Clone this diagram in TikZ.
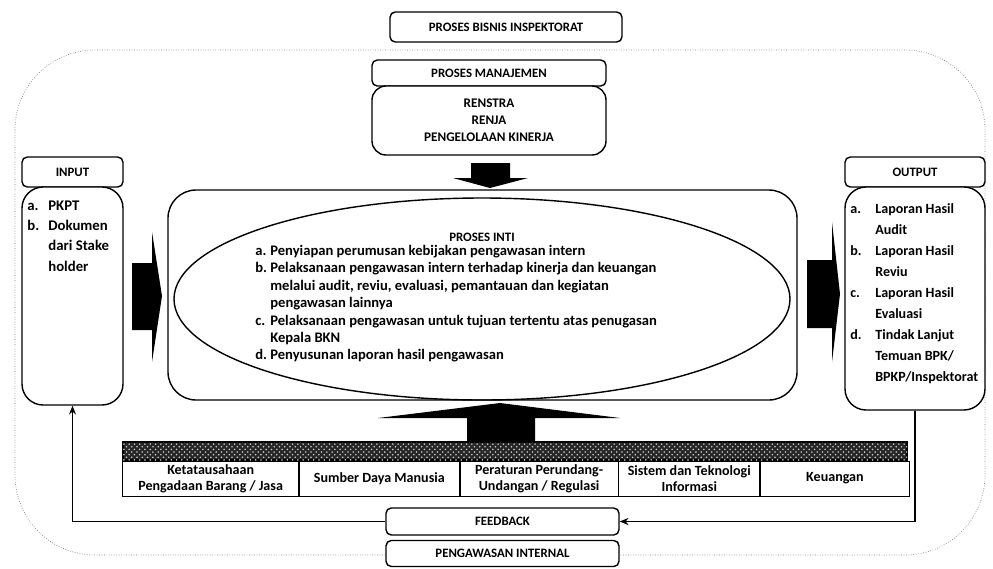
\documentclass[tikz,border=0pt]{standalone}
\usepackage{fontspec}
\setmainfont{Carlito}
\usetikzlibrary{arrows.meta,patterns,shapes.geometric}

\begin{document}
\begin{tikzpicture}[
  hdr/.style={draw, thick, rounded corners=3pt, fill=white, inner sep=1pt,
              font=\fontsize{7.3}{8}\selectfont\bfseries},
  bodybox/.style={draw, thick, rounded corners=12pt, fill=white, inner sep=0pt},
  cell/.style={draw, minimum height=0.7cm, inner sep=1pt, align=center,
               anchor=north west, font=\fontsize{8}{9.4}\selectfont\bfseries},
  lst/.style={anchor=north west, inner sep=0pt, align=left},
  fb/.style={thick, -{Stealth[length=5pt,width=4pt]}},
  >=Stealth]
  \useasboundingbox (0,0) rectangle (19.86,-11.36);
  % outer frame
  \draw[gray, densely dotted, rounded corners=1.6cm] (0.3,-1.0) rectangle (19.7,-11.1);
  \node[hdr, minimum width=4.64cm, minimum height=0.6cm] (bisnis) at (10.12,-0.54)
    {PROSES BISNIS INSPEKTORAT};
  % manajemen
  \node[hdr, minimum width=4.68cm, minimum height=0.52cm] (manaj) at (9.78,-1.46)
    {PROSES MANAJEMEN};
  \node[bodybox, rounded corners=8pt, minimum width=4.68cm, minimum height=1.38cm,
        align=center, font=\fontsize{7.5}{9.6}\selectfont\bfseries] (renstra) at (9.78,-2.41)
    {RENSTRA\\RENJA\\PENGELOLAAN KINERJA};
  \fill (9.42,-3.26) -- (10.2,-3.26) -- (10.2,-3.56) -- (10.56,-3.56)
    -- (9.8,-3.76) -- (9.06,-3.56) -- (9.42,-3.56) -- cycle;
  % proses inti
  \node[bodybox, rounded corners=16pt, minimum width=12.58cm, minimum height=4.2cm] (core)
    at (9.65,-5.9) {};
  \node[ellipse, draw, thick, minimum width=12.32cm, minimum height=4.04cm] (inti)
    at (9.64,-5.98) {};
  \node[font=\fontsize{7.3}{8}\selectfont\bfseries] (intihdr) at (9.64,-4.74) {PROSES INTI};
  \node[lst, font=\fontsize{8.3}{9.9}\selectfont\bfseries] (intilist) at (5.1,-4.86)
    {\begin{tabular}{@{}p{0.3cm}@{}l@{}}
      a. & Penyiapan perumusan kebijakan pengawasan intern\\
      b. & Pelaksanaan pengawasan intern terhadap kinerja dan keuangan\\
         & melalui audit, reviu, evaluasi, pemantauan dan kegiatan\\
         & pengawasan lainnya\\
      c. & Pelaksanaan pengawasan untuk tujuan tertentu atas penugasan\\
         & Kepala BKN\\
      d. & Penyusunan laporan hasil pengawasan
    \end{tabular}};
  % input
  \node[hdr, minimum width=2.02cm, minimum height=0.6cm] (inhdr) at (1.45,-3.44) {INPUT};
  \node[bodybox, minimum width=2.02cm, minimum height=4.36cm] (input) at (1.45,-5.92) {};
  \node[lst, font=\fontsize{8.4}{11.6}\selectfont\bfseries] (intext) at (0.54,-3.91)
    {\begin{tabular}{@{}p{0.42cm}@{}l@{}}
      a. & PKPT\\
      b. & Dokumen\\
         & dari Stake\\
         & holder
    \end{tabular}};
  \fill (2.64,-5.26) -- (3.04,-5.26) -- (3.04,-4.64) -- (3.24,-5.92)
    -- (3.04,-7.24) -- (3.04,-6.6) -- (2.64,-6.6) -- cycle;
  % output
  \node[hdr, minimum width=2.8cm, minimum height=0.6cm] (outhdr) at (18.3,-3.44) {OUTPUT};
  \node[bodybox, minimum width=2.8cm, minimum height=4.46cm] (output) at (18.3,-5.97) {};
  \node[lst, font=\fontsize{8}{12}\selectfont\bfseries] (outtext) at (17.0,-3.96)
    {\begin{tabular}{@{}p{0.5cm}@{}l@{}}
      a. & Laporan Hasil\\
         & Audit\\
      b. & Laporan Hasil\\
         & Reviu\\
      c. & Laporan Hasil\\
         & Evaluasi\\
      d. & Tindak Lanjut\\
         & Temuan BPK/\\
         & BPKP/Inspektorat
    \end{tabular}};
  \fill (16.14,-5.2) -- (16.64,-5.2) -- (16.64,-4.44) -- (16.8,-5.88)
    -- (16.64,-7.24) -- (16.64,-6.56) -- (16.14,-6.56) -- cycle;
  % pendukung
  \fill (9.34,-8.84) -- (10.7,-8.84) -- (10.7,-8.36) -- (12.4,-8.36)
    -- (10.0,-8.06) -- (7.56,-8.36) -- (9.34,-8.36) -- cycle;
  \node[draw, thick, minimum width=15.68cm, minimum height=0.36cm, inner sep=0pt,
        fill=black!85, postaction={pattern=crosshatch dots, pattern color=gray!40}]
    (strip) at (10.3,-9.02) {};
  \node[cell, minimum width=3.52cm] (c1) at (strip.south west)
    {Ketatausahaan\\Pengadaan Barang / Jasa};
  \node[cell, minimum width=3.2cm] (c2) at (c1.north east) {Sumber Daya Manusia};
  \node[cell, minimum width=3.16cm] (c3) at (c2.north east)
    {Peraturan Perundang-\\Undangan / Regulasi};
  \node[cell, minimum width=2.82cm] (c4) at (c3.north east)
    {Sistem dan Teknologi\\Informasi};
  \node[cell, minimum width=2.98cm] (c5) at (c4.north east) {Keuangan};
  % feedback
  \node[hdr, minimum width=4.66cm, minimum height=0.54cm] (feedback) at (10.05,-10.43)
    {FEEDBACK};
  \node[hdr, minimum width=4.66cm, minimum height=0.52cm] (pengawasan) at (10.05,-11.07)
    {PENGAWASAN INTERNAL};
  \draw[fb] (output.south) |- (feedback.east);
  \draw[fb] (feedback.west) -| (input.south);
\end{tikzpicture}
\end{document}
